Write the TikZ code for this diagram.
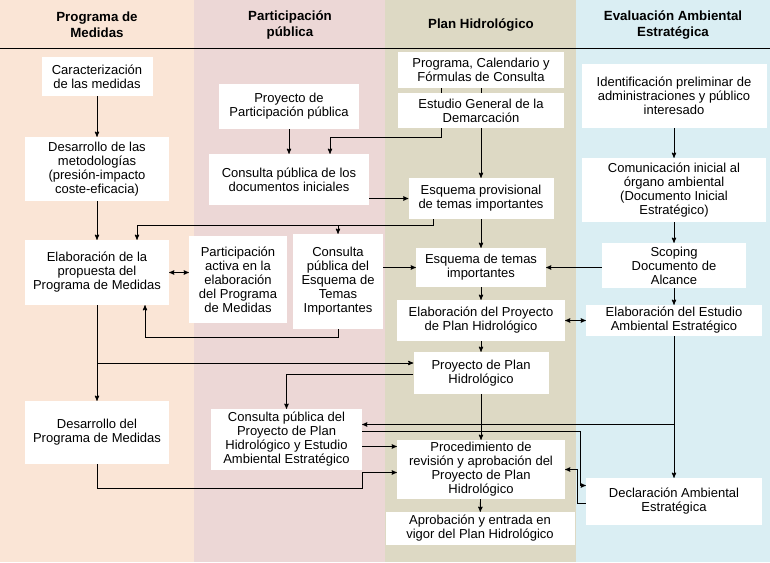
\documentclass[tikz,border=0pt]{standalone}
\usepackage{fontspec}
\setmainfont{Liberation Sans}
\usepackage{tikz}
\usetikzlibrary{arrows}

\definecolor{colmedidas}{RGB}{250,229,214}
\definecolor{colpublica}{RGB}{236,215,214}
\definecolor{colplan}{RGB}{221,217,196}
\definecolor{coleae}{RGB}{218,238,243}

\begin{document}
\begin{tikzpicture}[x=1pt,y=-1pt,
            header/.style={font=\fontsize{13.3}{16}\selectfont\bfseries,align=center},
            box/.style={fill=white,inner sep=1pt,align=center,font=\fontsize{13}{14}\selectfont},
            arr/.style={->,>=stealth',line width=.9pt},
            both/.style={<->,>=stealth',line width=.9pt},
            plain/.style={line width=.9pt}]

            \useasboundingbox (0,0) rectangle (770,562);
            \fill[colmedidas] (0,0) rectangle (194,562);
            \fill[colpublica] (194,0) rectangle (385,562);
            \fill[colplan] (385,0) rectangle (576,562);
            \fill[coleae] (576,0) rectangle (770,562);
            \draw[line width=1pt] (0,48) -- (770,48);

            \node[header] (hpm) at (97,25) {Programa de\\Medidas};
            \node[header] (hpp) at (290,25) {Participación\\pública};
            \node[header] (hph) at (481,25) {Plan Hidrológico};
            \node[header] (heae) at (673,25) {Evaluación Ambiental\\Estratégica};

            \node[box,minimum width=111,minimum height=39] (car) at (97,76.5) {Caracterización\\de las medidas};
            \node[box,minimum width=144,minimum height=64] (met) at (97,169) {Desarrollo de las\\metodologías\\(presión-impacto\\coste-eficacia)};
            \node[box,minimum width=144,minimum height=65] (prop) at (97,272.5) {Elaboración de la\\propuesta del\\Programa de Medidas};
            \node[box,minimum width=144,minimum height=63] (despm) at (97,432.5) {Desarrollo del\\Programa de Medidas};

            \node[box,minimum width=140,minimum height=45] (ppp) at (289,106.5) {Proyecto de\\Participación pública};
            \node[box,minimum width=160,minimum height=51] (cdi) at (289,179.5) {Consulta pública de los\\documentos iniciales};
            \node[box,minimum width=98,minimum height=87] (pact) at (238,279.5) {Participación\\activa en la\\elaboración\\del Programa\\de Medidas};
            \node[box,minimum width=90,minimum height=95] (cesq) at (338,281.5) {Consulta\\pública del\\Esquema de\\Temas\\Importantes};
            \node[box,minimum width=151,minimum height=61] (cpph) at (286.5,439.5) {Consulta pública del\\Proyecto de Plan\\Hidrológico y Estudio\\Ambiental Estratégico};

            \node[box,minimum width=166,minimum height=36] (pcal) at (481,70) {Programa, Calendario y\\Fórmulas de Consulta};
            \node[box,minimum width=166,minimum height=35] (egd) at (481,110.5) {Estudio General de la\\Demarcación};
            \node[box,minimum width=145,minimum height=41] (eprov) at (481,198.5) {Esquema provisional\\de temas importantes};
            \node[box,minimum width=130,minimum height=39] (eti) at (481,267.5) {Esquema de temas\\importantes};
            \node[box,minimum width=168,minimum height=41] (epph) at (481,320.5) {Elaboración del Proyecto\\de Plan Hidrológico};
            \node[box,minimum width=135,minimum height=42] (pph) at (481,373) {Proyecto de Plan\\Hidrológico};
            \node[box,minimum width=168,minimum height=59] (proc) at (481,469.5) {Procedimiento de\\revisión y aprobación del\\Proyecto de Plan\\Hidrológico};
            \node[box,minimum width=189,minimum height=33] (aprob) at (480,528.5) {Aprobación y entrada en\\vigor del Plan Hidrológico};

            \node[box,minimum width=185,minimum height=64] (ident) at (674,96) {Identificación preliminar de\\administraciones y público\\interesado};
            \node[box,minimum width=184,minimum height=64] (cinic) at (674,190) {Comunicación inicial al\\órgano ambiental\\(Documento Inicial\\Estratégico)};
            \node[box,minimum width=144,minimum height=45] (scop) at (674,265.5) {Scoping\\Documento de\\Alcance};
            \node[box,minimum width=176,minimum height=31] (eeae) at (674,320.5) {Elaboración del Estudio\\Ambiental Estratégico};
            \node[box,minimum width=176,minimum height=47] (dae) at (674,501.5) {Declaración Ambiental\\Estratégica};

            \draw[arr] (car) -- (met);
            \draw[arr] (met) -- (prop);
            \draw[arr] (prop) -- (despm);
            \draw[arr] (prop) |- ([yshift=10pt]pph.west);
            \draw[arr] ([yshift=-1pt]pph.west) -| (cpph);
            \draw[both] (prop.east) -- (prop.east -| pact.west);

            \draw[arr] (ppp) -- (cdi);
            \draw[plain] (pcal) -- (egd);
            \draw[plain] ([xshift=-40pt]pcal.south) -- ([xshift=-40pt]egd.north);
            \draw[arr] ([xshift=-40pt]egd.south) -- ++(0,9) -| ([xshift=41pt]cdi.north);
            \draw[arr] (egd) -- (eprov);
            \draw[arr] (cdi.east |- eprov) -- (eprov.west);
            \draw[arr] ([xshift=-48pt]eprov.south) -- ++(0,6) -| ([xshift=40pt]prop.north);
            \draw[arr] (cesq.north |- 0,225) -- (cesq.north);
            \draw[arr] (eprov) -- (eti);
            \draw[arr] (cesq.east |- eti) -- (eti.west);
            \draw[arr] (cesq.south) -- ++(0,8) -| ([xshift=48pt]prop.south);

            \draw[arr] (scop.west |- eti) -- (eti.east);
            \draw[arr] (eti) -- (epph);
            \draw[both] (epph) -- (eeae);
            \draw[arr] (epph) -- (pph);
            \draw[arr] (pph) -- (proc);
            \draw[arr] (proc) -- (aprob);

            \draw[arr] (ident) -- (cinic);
            \draw[arr] (cinic) -- (scop);
            \draw[arr] (scop) -- (eeae);
            \draw[arr] (eeae) -- (dae);
            \draw[arr] (eeae) |- ([yshift=15pt]cpph.east);
            \draw[arr] ([yshift=8pt]cpph.east) -| ([xshift=-5pt,yshift=16pt]dae.west) -- ([yshift=16pt]dae.west);
            \draw[arr] ([yshift=-7pt]cpph.east) -- ([yshift=-7pt]cpph.east -| proc.west);
            \draw[arr] (despm) |- ([yshift=-49pt]cpph.east) |- ([yshift=-3pt]proc.west);
            \draw[arr] ([yshift=-2pt]dae.west) -| ([xshift=12pt]proc.east) -- (proc.east);
        \end{tikzpicture}
\end{document}
